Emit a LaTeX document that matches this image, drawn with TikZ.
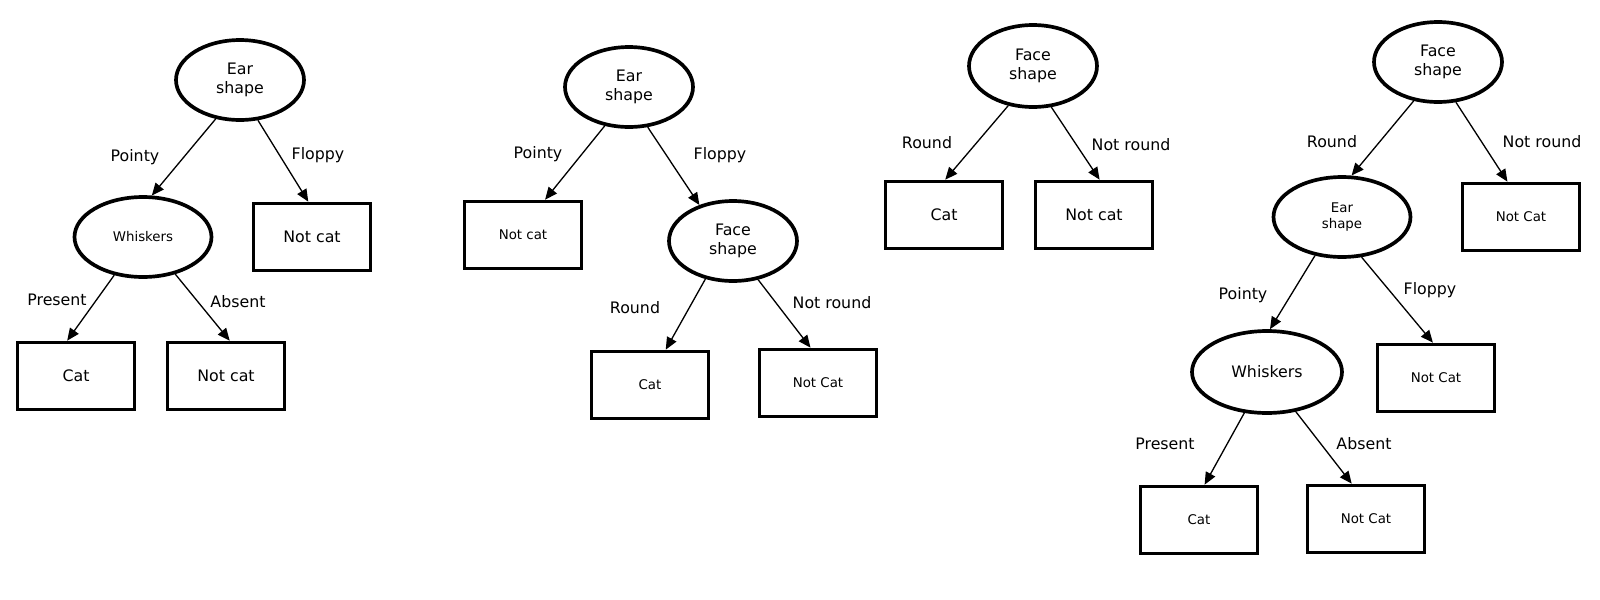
\documentclass[tikz,border=0pt]{standalone}
\usepackage{fontspec}
\setmainfont{DejaVu Sans}
\usetikzlibrary{shapes.geometric, arrows.meta}

\newcommand{\bigtxt}{\fontsize{9}{11}\selectfont}
\newcommand{\smalltxt}{\fontsize{7.6}{9.2}\selectfont}

\begin{document}
\begin{tikzpicture}[
        x=0.02cm, y=-0.02cm,
        decision/.style={draw, ellipse, line width=2.1pt, minimum width=2.56cm, minimum height=1.6cm, inner sep=0pt, align=center, font=\bigtxt},
        leaf/.style={draw, rectangle, line width=2.1pt, minimum width=2.34cm, minimum height=1.34cm, align=center, font=\bigtxt},
        smalltext/.style={font=\smalltxt},
        wide/.style={minimum width=2.74cm},
        edgetext/.style={font=\bigtxt},
        arrow/.style={-{Triangle[length=7pt, width=6pt]}, line width=0.75pt}
    ]
    \useasboundingbox (0,0) rectangle (1600,599);

    % Tree 1: ear shape first
    \node[decision] (earA) at (240,80) {Ear\\shape};
    \node[decision, wide, smalltext] (whiskA) at (143,237) {Whiskers};
    \node[leaf] (notcatA) at (312,237) {Not cat};
    \node[leaf] (catB) at (76,376) {Cat};
    \node[leaf] (notcatB) at (226,376) {Not cat};

    \node[edgetext] at (135,157) {Pointy};
    \node[edgetext] at (318,155) {Floppy};
    \node[edgetext] at (57,300) {Present};
    \node[edgetext] at (238,302) {Absent};

    % Tree 2: ear shape, then face shape
    \node[decision] (earC) at (629,87) {Ear\\shape};
    \node[leaf, smalltext] (notcatC) at (523,235) {Not cat};
    \node[decision] (faceC) at (733,241) {Face\\shape};
    \node[leaf, smalltext] (catD) at (650,385) {Cat};
    \node[leaf, smalltext] (notcatD) at (818,383) {Not Cat};

    \node[edgetext] at (538,154) {Pointy};
    \node[edgetext] at (720,155) {Floppy};
    \node[edgetext] at (635,308) {Round};
    \node[edgetext] at (832,303) {Not round};

    % Tree 3: face shape only
    \node[decision, minimum height=1.64cm] (faceE) at (1033,66) {Face\\shape};
    \node[leaf] (catE) at (944,215) {Cat};
    \node[leaf] (notcatE) at (1094,215) {Not cat};

    \node[edgetext] at (927,143) {Round};
    \node[edgetext] at (1131,145) {Not round};

    % Tree 4: face shape, ear shape, whiskers
    \node[decision] (faceF) at (1438,62) {Face\\shape};
    \node[decision, wide, smalltext] (earF) at (1342,217) {Ear\\shape};
    \node[leaf, smalltext] (notcatF) at (1521,217) {Not Cat};
    \node[decision, minimum width=3cm, minimum height=1.64cm] (whiskF) at (1267,372) {Whiskers};
    \node[leaf, smalltext] (notcatG) at (1436,378) {Not Cat};
    \node[leaf, smalltext] (catH) at (1199,520) {Cat};
    \node[leaf, smalltext] (notcatH) at (1366,519) {Not Cat};

    \node[edgetext] at (1332,142) {Round};
    \node[edgetext] at (1542,142) {Not round};
    \node[edgetext] at (1243,295) {Pointy};
    \node[edgetext] at (1430,290) {Floppy};
    \node[edgetext] at (1165,444) {Present};
    \node[edgetext] at (1364,444) {Absent};

    % Branches
    \foreach \from/\a/\to/\b in {earA/238/whiskA/78, earA/294/notcatA/96,
                                 whiskA/233/catB/104, whiskA/311/notcatB/84,
                                 earC/238/notcatC/58, earC/295/faceC/133,
                                 faceC/234/catD/66, faceC/303/notcatD/102,
                                 faceE/238/catE/88, faceE/294/notcatE/81,
                                 faceF/238/earF/77, faceF/294/notcatF/111,
                                 earF/235/whiskF/86, earF/296/notcatG/95,
                                 whiskF/241/catH/81, whiskF/306/notcatH/112} {
        \draw[arrow] (\from.\a) -- (\to.\b);
    }
\end{tikzpicture}
\end{document}
